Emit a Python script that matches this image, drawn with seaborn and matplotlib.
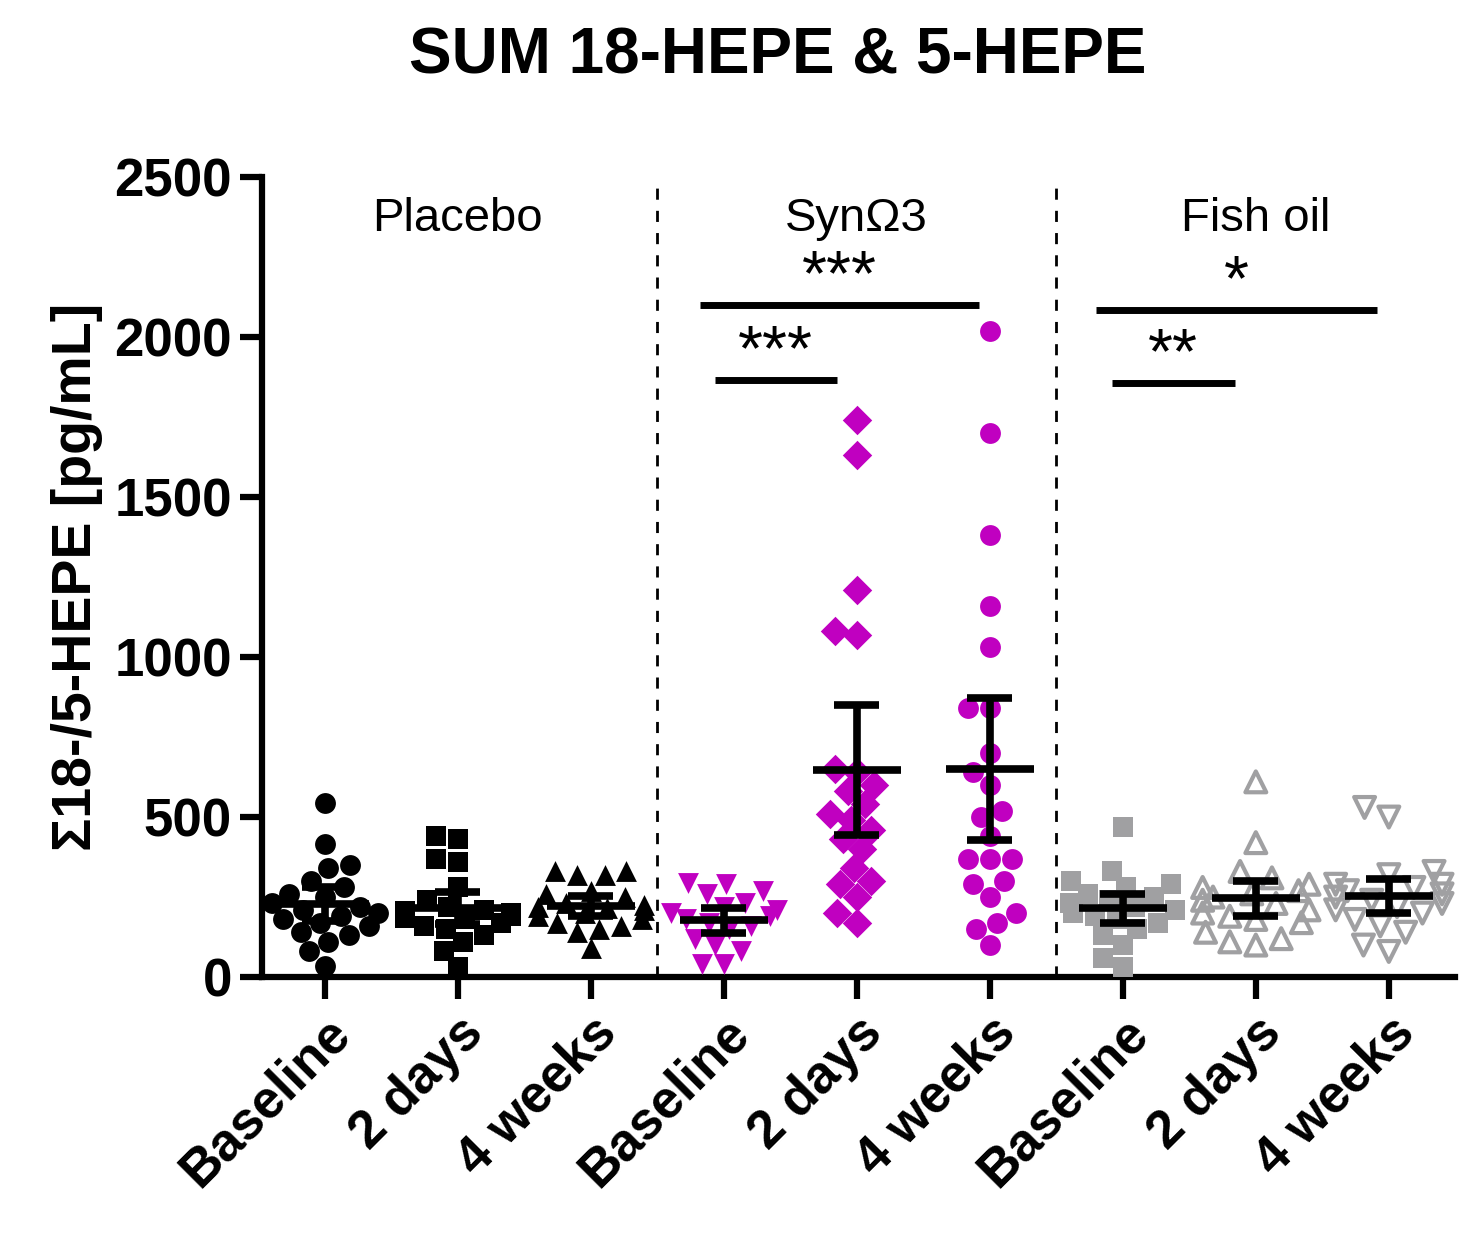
import numpy as np
import pandas as pd
import matplotlib
matplotlib.use("Agg")
import matplotlib.pyplot as plt
import seaborn as sns

sns.set_style("white")
plt.rcParams['font.family'] = ['Liberation Sans', 'DejaVu Sans']
plt.rcParams['text.color'] = 'black'
plt.rcParams['axes.labelcolor'] = 'black'
plt.rcParams['xtick.color'] = 'black'
plt.rcParams['ytick.color'] = 'black'
plt.rcParams['axes.edgecolor'] = 'black'

# data (pg/mL)
placebo_base = [545, 415, 340, 350, 300, 280, 260, 250, 230, 210, 200, 190, 180, 170, 160, 140, 130, 110, 80, 35, 220]
placebo_2d = [440, 430, 370, 360, 280, 240, 220, 210, 200, 195, 190, 185, 180, 170, 160, 150, 130, 110, 80, 30, 205]
placebo_4w = [330, 330, 320, 320, 270, 260, 250, 230, 225, 220, 215, 210, 200, 190, 180, 170, 160, 150, 140, 90]
syn_base = [290, 295, 270, 260, 230, 220, 210, 200, 190, 170, 150, 120, 100, 80, 40, 40, 180, 160]
syn_2d = [1740, 1630, 1210, 1080, 1070, 650, 640, 600, 580, 540, 510, 490, 460, 430, 400, 340, 300, 290, 250, 200, 170]
syn_4w = [2020, 1700, 1380, 1160, 1030, 840, 840, 700, 640, 600, 520, 440, 370, 370, 370, 300, 290, 250, 200, 170, 150, 100, 500]
fish_base = [470, 330, 300, 290, 280, 260, 250, 240, 230, 220, 200, 190, 180, 170, 150, 130, 100, 60, 30, 210]
fish_2d = [610, 420, 330, 310, 290, 280, 270, 260, 250, 240, 230, 210, 200, 190, 180, 170, 140, 120, 110, 100]
fish_4w = [530, 500, 330, 320, 290, 290, 280, 270, 260, 250, 240, 230, 220, 210, 200, 180, 160, 140, 100, 80]

series = [placebo_base, placebo_2d, placebo_4w, syn_base, syn_2d, syn_4w, fish_base, fish_2d, fish_4w]
conds = ["P0", "P2d", "P4w", "S0", "S2d", "S4w", "F0", "F2d", "F4w"]
tick_labels = ["Baseline", "2 days", "4 weeks"] * 3
groups = ["Placebo", "SynΩ3", "Fish oil"]

magenta = "#C000C0"
grey = "#A0A0A2"
styles = [("o", "black", True), ("s", "black", True), ("^", "black", True),
          ("v", magenta, True), ("D", magenta, True), ("o", magenta, True),
          ("s", grey, True), ("^", grey, False), ("v", grey, False)]

df = pd.concat([pd.DataFrame({"cond": c, "val": v}) for c, v in zip(conds, series)])

fig = plt.figure(figsize=(14.82, 12.52), dpi=100)
ax = fig.add_axes([0.177, 0.2196, 0.805, 0.639])

for c, (m, col, filled) in zip(conds, styles):
    n_before = len(ax.collections)
    sns.swarmplot(data=df[df.cond == c], x="cond", y="val", order=conds, marker=m,
                  color=col, size=15, ax=ax, warn_thresh=1)
    if not filled:
        for coll in ax.collections[n_before:]:
            coll.set_facecolor("none")
            coll.set_edgecolor(col)
            coll.set_linewidth(3)

# mean with 95% CI
t975 = 2.09
for i, v in enumerate(series):
    v = np.array(v, dtype=float)
    m = v.mean()
    ci = t975 * v.std(ddof=1) / np.sqrt(len(v))
    ax.hlines(m, i - 0.33, i + 0.33, color="black", lw=5.5, zorder=5)
    ax.hlines([m - ci, m + ci], i - 0.17, i + 0.17, color="black", lw=5.5, zorder=5)
    ax.vlines(i, m - ci, m + ci, color="black", lw=5.5, zorder=5)

# group separators and labels
for xs in [2.5, 5.5]:
    ax.axvline(xs, color="black", lw=2, ls=(0, (4, 4)))
for i, g in enumerate(groups):
    ax.text(3 * i + 1, 2370, g, ha="center", va="center", fontsize=34)

# significance bars
sig = [(2.82, 4.92, 2100, "***"), (2.93, 3.85, 1865, "***"),
       (5.80, 7.91, 2085, "*"), (5.92, 6.84, 1855, "**")]
for x0, x1, y, s in sig:
    ax.hlines(y, x0, x1, color="black", lw=5)
    ax.text((x0 + x1) / 2, y - 10, s, ha="center", va="bottom", fontsize=46)

ax.set_xlim(-0.47, 8.5)
ax.set_ylim(0, 2500)
ax.set_yticks([0, 500, 1000, 1500, 2000, 2500])
ax.set_xticks(range(9))
ax.set_xticklabels(tick_labels, rotation=45, ha="right", rotation_mode="anchor",
                   fontsize=38, fontweight="bold")
for lab in ax.get_yticklabels():
    lab.set_fontsize(38)
    lab.set_fontweight("bold")
ax.set_xlabel("")
ax.set_ylabel("Σ18-/5-HEPE [pg/mL]", fontsize=40, fontweight="bold", labelpad=8)
sns.despine(ax=ax)
for sp in ["left", "bottom"]:
    ax.spines[sp].set_linewidth(4.5)
ax.tick_params(axis="both", direction="out", length=16, width=4.5, pad=6,
               left=True, bottom=True)
fig.text(0.525, 0.955, "SUM 18-HEPE & 5-HEPE", ha="center", va="center",
         fontsize=46, fontweight="bold")

fig.savefig("out.png", dpi=100)
